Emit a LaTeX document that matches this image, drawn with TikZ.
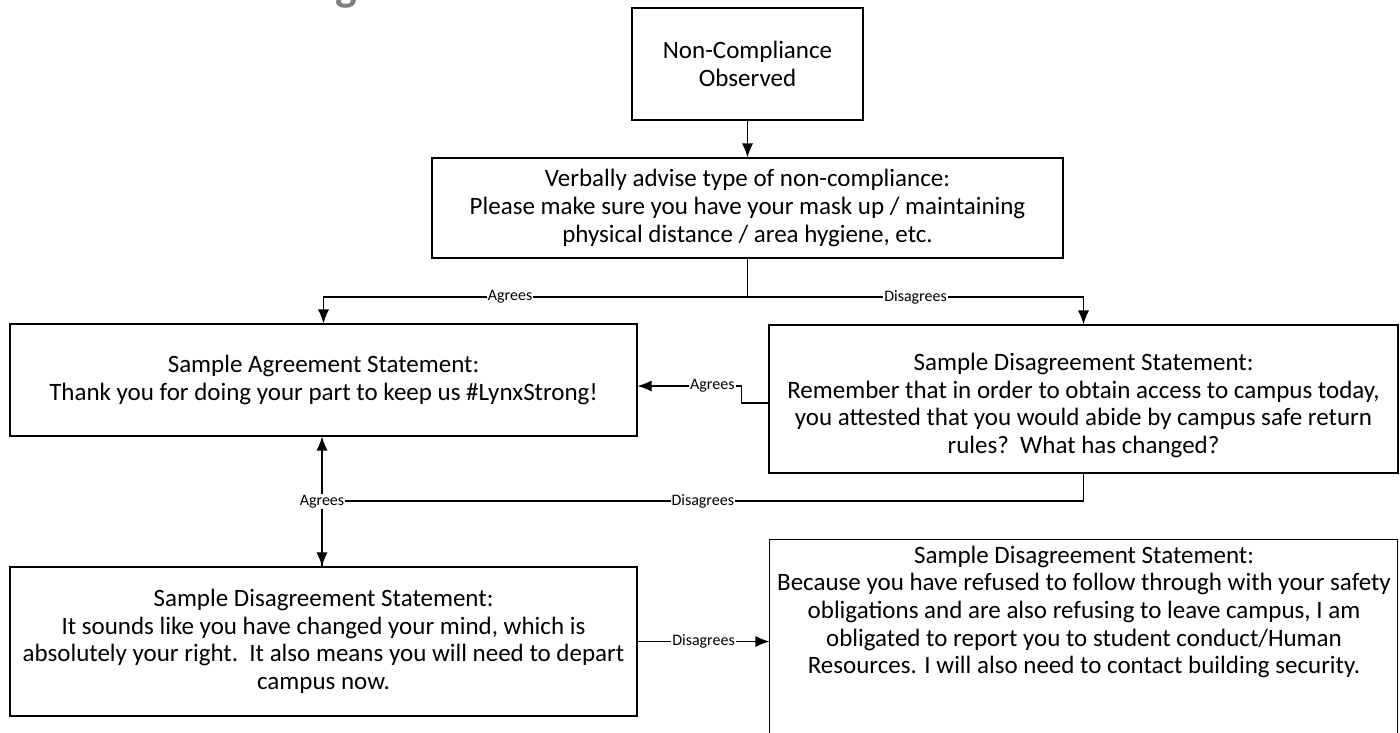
\documentclass[tikz,border=0pt]{standalone}
\usepackage{fontspec}
\setmainfont{Carlito}
\usetikzlibrary{arrows.meta}
\tikzset{>={Latex[length=14pt,width=11pt]}}
\tikzset{box/.style={draw=black, line width=1.1pt, align=center, inner sep=0pt, font=\fontsize{25}{27.6}\selectfont}}
\tikzset{lbl/.style={fill=white, inner sep=1pt, font=\fontsize{16}{18}\selectfont}}

\begin{document}
\begin{tikzpicture}[x=1pt, y=-1pt, line width=1.1pt]
    \useasboundingbox (0,0) rectangle (1400,732);
    \node[text=gray, font=\bfseries\fontsize{46}{46}\selectfont, anchor=base] (heading) at (346,0) {g};

    \node[box, minimum width=231pt, minimum height=112pt] (observed) at (747.5,64) {Non-Compliance\\Observed};
    \node[box, minimum width=631pt, minimum height=100pt] (advise) at (747.5,208) {Verbally advise type of non-compliance:\\Please make sure you have your mask up / maintaining\\physical distance / area hygiene, etc.};
    \node[box, minimum width=627pt, minimum height=112pt] (agree) at (323.5,380) {Sample Agreement Statement:\\Thank you for doing your part to keep us \#LynxStrong!};
    % first line raised a bit so the text sits lower in the box
    \node[box, minimum width=629pt, minimum height=148pt] (remind) at (1083.5,399) {\rule{0pt}{30pt}Sample Disagreement Statement:\\Remember that in order to obtain access to campus today,\\you attested that you would abide by campus safe return\\rules?\ \ What has changed?};
    \node[box, minimum width=627pt, minimum height=149pt] (depart) at (323.5,641.5) {Sample Disagreement Statement:\\It sounds like you have changed your mind, which is\\absolutely your right.\ \ It also means you will need to depart\\campus now.};
    \node[box, draw=none, minimum width=628pt, minimum height=144pt] (report) at (1084,612) {Sample Disagreement Statement:\\Because you have refused to follow through with your safety\\obligations and are also refusing to leave campus, I am\\obligated to report you to student conduct/Human\\Resources. I will also need to contact building security.};
    \draw (report.north west) rectangle ++(628,220);

    \coordinate (split) at (747.5,297);
    \coordinate (merge) at (322,501);

    \draw[->] (observed) -- (advise);
    \draw (advise) -- (split);
    \draw[->] (split) -| node[lbl, pos=0.28] {Agrees} (agree);
    \draw[->] (split) -| node[lbl, pos=0.25] {Disagrees} (remind);
    \draw[->] ([yshift=-4pt]remind.west) -- ++(-27,0) |- node[lbl, pos=0.64] {Agrees} ([yshift=-6pt]agree.east);
    \draw[->] (remind.south) |- node[lbl, pos=0.75] {Disagrees} (merge) -- (depart.north -| merge);
    \draw[->] (depart.north -| merge) -- node[lbl] {Agrees} (agree.south -| merge);
    \draw[->] (depart.east) -- node[lbl] {Disagrees} (depart.east -| report.west);

\end{tikzpicture}
\end{document}
